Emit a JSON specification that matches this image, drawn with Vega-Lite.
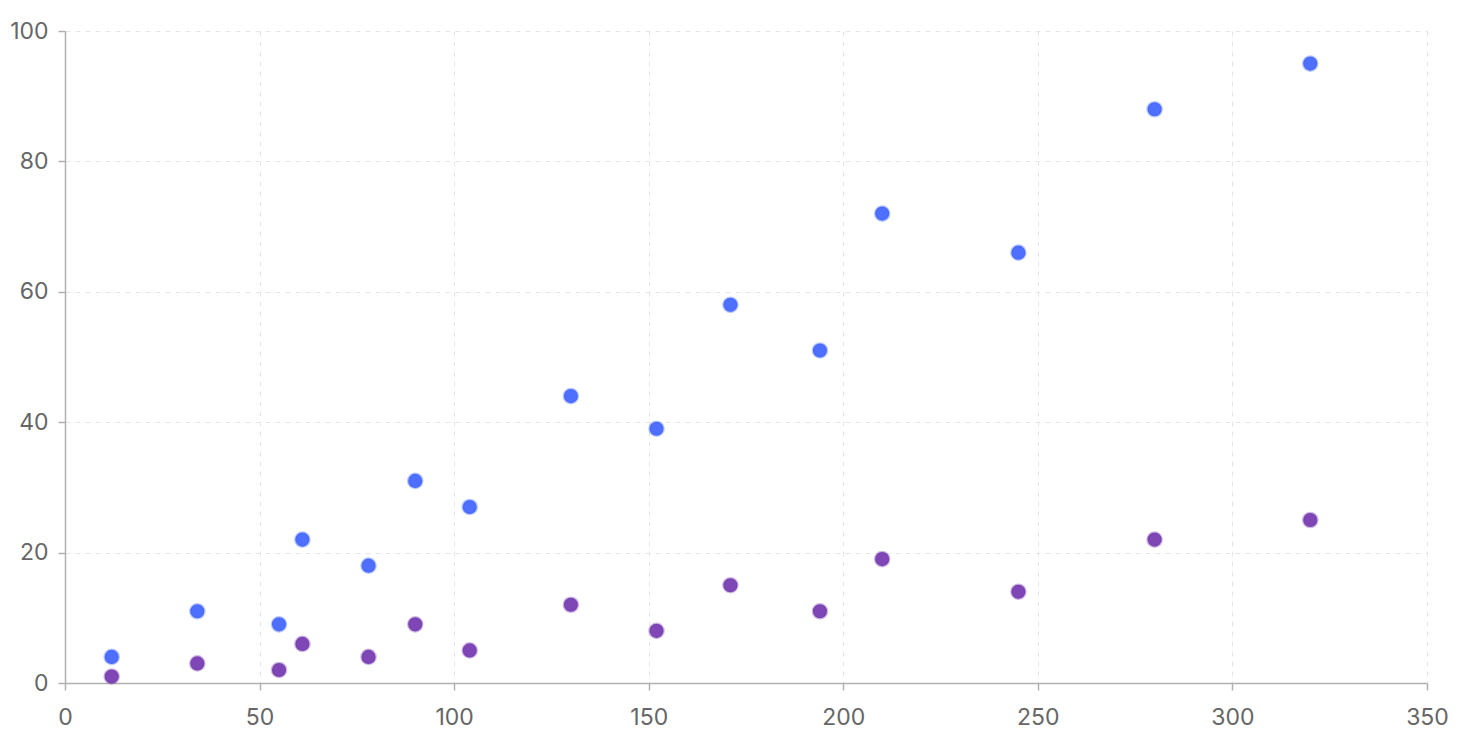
{
  "$schema": "https://vega.github.io/schema/vega-lite/v6.json",
  "width": 1362,
  "height": 652,
  "autosize": {"type": "none"},
  "padding": {"left": 65, "top": 31, "right": 33, "bottom": 69},
  "background": "#ffffff",
  "config": {
    "view": {"stroke": null},
    "font": "Inter",
    "axis": {
      "labelFont": "Inter",
      "labelFontSize": 23,
      "labelColor": "#666666",
      "labelFlush": false,
      "labelOverlap": false,
      "domainColor": "#b0b0b0",
      "domainWidth": 1.5,
      "tickColor": "#b0b0b0",
      "tickWidth": 1.5,
      "tickSize": 7,
      "gridColor": "#e6e6e6",
      "gridDash": [5, 5],
      "gridWidth": 1,
      "title": null
    }
  },
  "data": {
    "values": [
      {"x": 12, "y": 4, "series": "A"},
      {"x": 34, "y": 11, "series": "A"},
      {"x": 55, "y": 9, "series": "A"},
      {"x": 61, "y": 22, "series": "A"},
      {"x": 78, "y": 18, "series": "A"},
      {"x": 90, "y": 31, "series": "A"},
      {"x": 104, "y": 27, "series": "A"},
      {"x": 130, "y": 44, "series": "A"},
      {"x": 152, "y": 39, "series": "A"},
      {"x": 171, "y": 58, "series": "A"},
      {"x": 194, "y": 51, "series": "A"},
      {"x": 210, "y": 72, "series": "A"},
      {"x": 245, "y": 66, "series": "A"},
      {"x": 280, "y": 88, "series": "A"},
      {"x": 320, "y": 95, "series": "A"},
      {"x": 12, "y": 1, "series": "B"},
      {"x": 34, "y": 3, "series": "B"},
      {"x": 55, "y": 2, "series": "B"},
      {"x": 61, "y": 6, "series": "B"},
      {"x": 78, "y": 4, "series": "B"},
      {"x": 90, "y": 9, "series": "B"},
      {"x": 104, "y": 5, "series": "B"},
      {"x": 130, "y": 12, "series": "B"},
      {"x": 152, "y": 8, "series": "B"},
      {"x": 171, "y": 15, "series": "B"},
      {"x": 194, "y": 11, "series": "B"},
      {"x": 210, "y": 19, "series": "B"},
      {"x": 245, "y": 14, "series": "B"},
      {"x": 280, "y": 22, "series": "B"},
      {"x": 320, "y": 25, "series": "B"}
    ]
  },
  "mark": {"type": "circle", "size": 200, "fillOpacity": 0.92, "strokeWidth": 2.5, "strokeOpacity": 0.35},
  "encoding": {
    "x": {
      "field": "x",
      "type": "quantitative",
      "scale": {"domain": [0, 350], "nice": false},
      "axis": {"values": [0, 50, 100, 150, 200, 250, 300, 350], "labelPadding": 16}
    },
    "y": {
      "field": "y",
      "type": "quantitative",
      "scale": {"domain": [0, 100], "nice": false},
      "axis": {"values": [0, 20, 40, 60, 80, 100], "labelPadding": 10}
    },
    "color": {
      "field": "series",
      "type": "nominal",
      "scale": {"domain": ["A", "B"], "range": ["#3f63ff", "#7437b0"]},
      "legend": null
    },
    "stroke": {
      "field": "series",
      "type": "nominal",
      "scale": {"domain": ["A", "B"], "range": ["#3f63ff", "#7437b0"]},
      "legend": null
    }
  }
}
